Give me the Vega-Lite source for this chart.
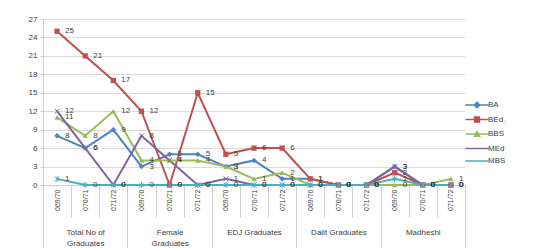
{
  "$schema": "https://vega.github.io/schema/vega-lite/v6.json",
  "width": 422,
  "height": 166,
  "padding": {"left": 28, "top": 15, "right": 2, "bottom": 0},
  "autosize": {"type": "pad"},
  "config": {
    "view": {"stroke": null},
    "font": "Liberation Sans",
    "axis": {"labelColor": "#404040", "domainColor": "#cfcfcf", "tickColor": "#cfcfcf", "gridColor": "#dcdcdc"}
  },
  "data": {
    "values": [
      {"group": "Total No of Graduates", "year": "069/70", "series": "BA", "value": 8},
      {"group": "Total No of Graduates", "year": "070/71", "series": "BA", "value": 6},
      {"group": "Total No of Graduates", "year": "071/72", "series": "BA", "value": 9},
      {"group": "Female Graduates", "year": "069/70", "series": "BA", "value": 3},
      {"group": "Female Graduates", "year": "070/71", "series": "BA", "value": 5},
      {"group": "Female Graduates", "year": "071/72", "series": "BA", "value": 5},
      {"group": "EDJ Graduates", "year": "069/70", "series": "BA", "value": 3},
      {"group": "EDJ Graduates", "year": "070/71", "series": "BA", "value": 4},
      {"group": "EDJ Graduates", "year": "071/72", "series": "BA", "value": 1},
      {"group": "Dalit Graduates", "year": "069/70", "series": "BA", "value": 1},
      {"group": "Dalit Graduates", "year": "070/71", "series": "BA", "value": 0},
      {"group": "Dalit Graduates", "year": "071/72", "series": "BA", "value": 0},
      {"group": "Madheshi", "year": "069/70", "series": "BA", "value": 3},
      {"group": "Madheshi", "year": "070/71", "series": "BA", "value": 0},
      {"group": "Madheshi", "year": "071/72", "series": "BA", "value": 0},

      {"group": "Total No of Graduates", "year": "069/70", "series": "BEd.", "value": 25},
      {"group": "Total No of Graduates", "year": "070/71", "series": "BEd.", "value": 21},
      {"group": "Total No of Graduates", "year": "071/72", "series": "BEd.", "value": 17},
      {"group": "Female Graduates", "year": "069/70", "series": "BEd.", "value": 12},
      {"group": "Female Graduates", "year": "070/71", "series": "BEd.", "value": 0},
      {"group": "Female Graduates", "year": "071/72", "series": "BEd.", "value": 15},
      {"group": "EDJ Graduates", "year": "069/70", "series": "BEd.", "value": 5},
      {"group": "EDJ Graduates", "year": "070/71", "series": "BEd.", "value": 6},
      {"group": "EDJ Graduates", "year": "071/72", "series": "BEd.", "value": 6},
      {"group": "Dalit Graduates", "year": "069/70", "series": "BEd.", "value": 1},
      {"group": "Dalit Graduates", "year": "070/71", "series": "BEd.", "value": 0},
      {"group": "Dalit Graduates", "year": "071/72", "series": "BEd.", "value": 0},
      {"group": "Madheshi", "year": "069/70", "series": "BEd.", "value": 2},
      {"group": "Madheshi", "year": "070/71", "series": "BEd.", "value": 0},
      {"group": "Madheshi", "year": "071/72", "series": "BEd.", "value": 0},

      {"group": "Total No of Graduates", "year": "069/70", "series": "BBS", "value": 11},
      {"group": "Total No of Graduates", "year": "070/71", "series": "BBS", "value": 8},
      {"group": "Total No of Graduates", "year": "071/72", "series": "BBS", "value": 12},
      {"group": "Female Graduates", "year": "069/70", "series": "BBS", "value": 4},
      {"group": "Female Graduates", "year": "070/71", "series": "BBS", "value": 4},
      {"group": "Female Graduates", "year": "071/72", "series": "BBS", "value": 4},
      {"group": "EDJ Graduates", "year": "069/70", "series": "BBS", "value": 3},
      {"group": "EDJ Graduates", "year": "070/71", "series": "BBS", "value": 1},
      {"group": "EDJ Graduates", "year": "071/72", "series": "BBS", "value": 2},
      {"group": "Dalit Graduates", "year": "069/70", "series": "BBS", "value": 0},
      {"group": "Dalit Graduates", "year": "070/71", "series": "BBS", "value": 0},
      {"group": "Dalit Graduates", "year": "071/72", "series": "BBS", "value": 0},
      {"group": "Madheshi", "year": "069/70", "series": "BBS", "value": 0},
      {"group": "Madheshi", "year": "070/71", "series": "BBS", "value": 0},
      {"group": "Madheshi", "year": "071/72", "series": "BBS", "value": 1},

      {"group": "Total No of Graduates", "year": "069/70", "series": "MEd", "value": 12},
      {"group": "Total No of Graduates", "year": "070/71", "series": "MEd", "value": 6},
      {"group": "Total No of Graduates", "year": "071/72", "series": "MEd", "value": 0},
      {"group": "Female Graduates", "year": "069/70", "series": "MEd", "value": 8},
      {"group": "Female Graduates", "year": "070/71", "series": "MEd", "value": 4},
      {"group": "Female Graduates", "year": "071/72", "series": "MEd", "value": 0},
      {"group": "EDJ Graduates", "year": "069/70", "series": "MEd", "value": 1},
      {"group": "EDJ Graduates", "year": "070/71", "series": "MEd", "value": 0},
      {"group": "EDJ Graduates", "year": "071/72", "series": "MEd", "value": 0},
      {"group": "Dalit Graduates", "year": "069/70", "series": "MEd", "value": 0},
      {"group": "Dalit Graduates", "year": "070/71", "series": "MEd", "value": 0},
      {"group": "Dalit Graduates", "year": "071/72", "series": "MEd", "value": 0},
      {"group": "Madheshi", "year": "069/70", "series": "MEd", "value": 3},
      {"group": "Madheshi", "year": "070/71", "series": "MEd", "value": 0},
      {"group": "Madheshi", "year": "071/72", "series": "MEd", "value": 0},

      {"group": "Total No of Graduates", "year": "069/70", "series": "MBS", "value": 1},
      {"group": "Total No of Graduates", "year": "070/71", "series": "MBS", "value": 0},
      {"group": "Total No of Graduates", "year": "071/72", "series": "MBS", "value": 0},
      {"group": "Female Graduates", "year": "069/70", "series": "MBS", "value": 0},
      {"group": "Female Graduates", "year": "070/71", "series": "MBS", "value": 0},
      {"group": "Female Graduates", "year": "071/72", "series": "MBS", "value": 0},
      {"group": "EDJ Graduates", "year": "069/70", "series": "MBS", "value": 0},
      {"group": "EDJ Graduates", "year": "070/71", "series": "MBS", "value": 0},
      {"group": "EDJ Graduates", "year": "071/72", "series": "MBS", "value": 0},
      {"group": "Dalit Graduates", "year": "069/70", "series": "MBS", "value": 0},
      {"group": "Dalit Graduates", "year": "070/71", "series": "MBS", "value": 0},
      {"group": "Dalit Graduates", "year": "071/72", "series": "MBS", "value": 0},
      {"group": "Madheshi", "year": "069/70", "series": "MBS", "value": 1},
      {"group": "Madheshi", "year": "070/71", "series": "MBS", "value": 0},
      {"group": "Madheshi", "year": "071/72", "series": "MBS", "value": 0}
    ]
  },
  "transform": [
    {"calculate": "datum.group + '|' + datum.year", "as": "key"}
  ],
  "resolve": {"scale": {"x": "independent"}, "axis": {"x": "independent"}},
  "layer": [
    {
      "layer": [
        {
          "mark": {"type": "line", "strokeWidth": 2},
          "encoding": {
            "color": {
              "field": "series", "type": "nominal",
              "scale": {"domain": ["BA", "BEd.", "BBS", "MEd", "MBS"], "range": ["#4f81bd", "#c0504d", "#9bbb59", "#8064a2", "#4bacc6"]},
              "legend": {
                "title": null,
                "orient": "none",
                "legendX": 427,
                "legendY": 79,
                "labelFontSize": 8,
                "labelColor": "#404040",
                "symbolSize": 150,
                "symbolStrokeWidth": 1.5,
                "rowPadding": 1.5,
                "labelOffset": 4,
                "encode": {
                  "symbols": {
                    "update": {
                      "shape": {"signal": "datum.value === 'BA' ? 'M-1.9,0L1.9,0M0,-0.45L0.45,0L0,0.45L-0.45,0Z' : datum.value === 'BEd.' ? 'M-1.9,0L1.9,0M-0.4,-0.4L0.4,-0.4L0.4,0.4L-0.4,0.4Z' : datum.value === 'BBS' ? 'M-1.9,0L1.9,0M0,-0.45L0.45,0.35L-0.45,0.35Z' : 'M-1.9,0L1.9,0'"},
                      "fill": {"scale": "color", "field": "value"}
                    }
                  }
                }
              }
            }
          }
        },
        {
          "transform": [{"filter": "datum.series === 'BA'"}],
          "mark": {"type": "point", "shape": "diamond", "filled": true, "size": 30, "opacity": 1, "color": "#4f81bd"},
          "encoding": {}
        },
        {
          "transform": [{"filter": "datum.series === 'BEd.'"}],
          "mark": {"type": "point", "shape": "square", "filled": true, "size": 28, "opacity": 1, "color": "#c0504d"},
          "encoding": {}
        },
        {
          "transform": [{"filter": "datum.series === 'BBS'"}],
          "mark": {"type": "point", "shape": "triangle-up", "filled": true, "size": 28, "opacity": 1, "color": "#9bbb59"},
          "encoding": {}
        },
        {
          "transform": [{"filter": "datum.series === 'MEd'"}],
          "mark": {"type": "point", "shape": "M-1,-1L1,1M-1,1L1,-1", "filled": false, "size": 22, "opacity": 1, "strokeWidth": 1, "color": "#8064a2"},
          "encoding": {}
        },
        {
          "transform": [{"filter": "datum.series === 'MBS'"}],
          "mark": {"type": "point", "shape": "M-1,-1L1,1M-1,1L1,-1M0,-1.3L0,1.3", "filled": false, "size": 22, "opacity": 1, "strokeWidth": 1, "color": "#4bacc6"},
          "encoding": {}
        },
        {
          "mark": {"type": "text", "align": "left", "baseline": "middle", "dx": 8, "fontSize": 8, "color": "#404040"},
          "encoding": {"text": {"field": "value", "type": "quantitative"}}
        }
      ],
      "encoding": {
        "x": {
          "field": "key", "type": "ordinal", "sort": null, "bandPosition": 0.5,
          "scale": {"type": "band", "paddingInner": 0, "paddingOuter": 0},
          "axis": {
            "orient": "bottom", "title": null, "labelAngle": 270,
            "labelExpr": "split(datum.label, '|')[1]",
            "labelFontSize": 7, "labelPadding": -28,
            "tickBand": "extent", "tickSize": 32, "grid": false
          }
        },
        "y": {
          "field": "value", "type": "quantitative",
          "scale": {"domain": [0, 27], "nice": false},
          "axis": {"title": null, "values": [0, 3, 6, 9, 12, 15, 18, 21, 24, 27], "labelOverlap": false, "labelFontSize": 8, "tickSize": 3, "labelPadding": 3}
        }
      }
    },
    {
      "mark": {"type": "point", "opacity": 0},
      "encoding": {
        "x": {
          "field": "group", "type": "nominal", "sort": null,
          "scale": {"type": "band", "paddingInner": 0, "paddingOuter": 0},
          "axis": {
            "orient": "bottom", "title": null, "labelAngle": 0, "domain": false,
            "tickBand": "extent", "tickSize": 63, "labelPadding": -20,
            "labelFontSize": 8, "labelLineHeight": 11,
            "labelExpr": "datum.label === 'Total No of Graduates' ? ['Total No of', 'Graduates'] : datum.label === 'Female Graduates' ? ['Female', 'Graduates'] : datum.label"
          }
        }
      }
    }
  ]
}
